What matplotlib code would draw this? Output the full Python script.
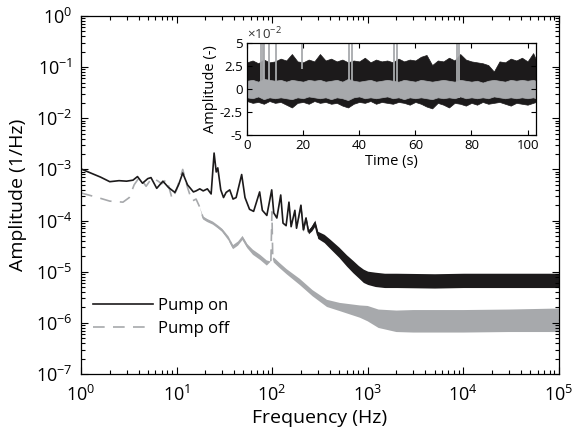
import numpy as np
import matplotlib
matplotlib.use("Agg")
import matplotlib.pyplot as plt
from matplotlib.ticker import LogLocator, NullFormatter, FixedLocator

plt.rcParams['font.family'] = ['Open Sans', 'DejaVu Sans']
plt.rcParams['mathtext.fontset'] = 'custom'
plt.rcParams['mathtext.rm'] = 'Open Sans'
plt.rcParams['mathtext.it'] = 'Open Sans:italic'
plt.rcParams['axes.unicode_minus'] = False

# ---- spectrum, pump on (log10 amplitude) ----
f_on = [1.0, 1.3, 1.6, 2.0, 2.5, 3.0, 3.5, 3.9, 4.4, 5.0, 5.4, 6.2, 7.2, 8.2,
        9.6, 10.5, 11.6, 13.0, 15.0, 16.0, 17.5, 19.0, 21.0, 23.0, 24.7, 26.0,
        27.0, 29.0, 31.0, 33.0, 36.0, 39.0, 42.0, 48.0, 52.0, 58.0, 64.0, 74.0,
        79.0, 88.0, 99.0, 104.0, 112.0, 123.0, 130.0, 140.0, 150.0, 158.0,
        173.0, 180.0, 200.0, 212.0, 226.0, 240.0, 260.0, 280.0, 300.0, 350.0,
        400.0, 500.0, 600.0, 700.0, 800.0, 900.0, 1000.0, 1200.0, 1500.0,
        2000.0, 5000.0, 10000.0, 30000.0, 100000.0]
a_on = [-2.99, -3.08, -3.15, -3.24, -3.22, -3.23, -3.21, -3.14, -3.27, -3.18,
        -3.16, -3.37, -3.23, -3.35, -3.45, -3.30, -3.07, -3.30, -3.44, -3.42,
        -3.38, -3.42, -3.38, -3.48, -2.68, -3.05, -2.97, -3.40, -3.55, -3.45,
        -3.40, -3.58, -3.55, -3.10, -3.55, -3.78, -3.82, -3.44, -3.80, -3.90,
        -3.40, -3.85, -3.95, -3.50, -4.05, -4.10, -3.64, -4.12, -3.80, -4.15,
        -3.70, -4.18, -3.95, -4.22, -4.15, -4.05, -4.28, -4.35, -4.45, -4.62,
        -4.78, -4.90, -5.00, -5.08, -5.12, -5.15, -5.17, -5.17, -5.18, -5.17,
        -5.17, -5.17]
# half width of the noise band (decades)
w_on = [0.0] * 50 + [0.02, 0.03, 0.03, 0.04, 0.05, 0.06, 0.07, 0.08, 0.09,
                     0.10, 0.11, 0.12, 0.12, 0.13, 0.13, 0.14, 0.14, 0.14,
                     0.14, 0.14, 0.14, 0.14]

# ---- spectrum, pump off ----
f_off = [1.0, 1.5, 2.0, 2.75, 3.2, 3.6, 4.1, 4.8, 5.5, 6.3, 7.0, 7.9, 9.0,
         10.0, 11.6, 13.0, 14.5, 16.0, 17.5, 19.0, 21.0, 24.0, 27.0, 30.0,
         35.0, 39.0, 44.0, 49.0, 55.0, 63.0, 75.0, 88.0, 97.0, 99.5, 101.5,
         104.0, 120.0, 142.0, 195.0, 265.0, 375.0, 510.0, 830.0, 1000.0,
         1300.0, 2000.0, 3000.0, 10000.0, 30000.0, 100000.0]
a_off = [-3.46, -3.55, -3.62, -3.64, -3.55, -3.30, -3.15, -3.33, -3.17, -3.22,
         -3.28, -3.19, -3.58, -3.40, -3.00, -3.35, -3.62, -3.58, -3.74, -3.95,
         -4.00, -4.05, -4.12, -4.19, -4.35, -4.52, -4.45, -4.34, -4.50, -4.62,
         -4.72, -4.83, -4.80, -3.83, -4.75, -4.77, -4.88, -5.00, -5.20, -5.42,
         -5.62, -5.69, -5.78, -5.82, -5.92, -5.97, -5.97, -5.97, -5.96, -5.95]
w_off = [0.0] * 19 + [0.03, 0.03, 0.03, 0.03, 0.03, 0.04, 0.04, 0.04, 0.04,
                      0.04, 0.05, 0.05, 0.05, 0.0, 0.0, 0.0, 0.05, 0.05,
                      0.05, 0.06, 0.06, 0.07, 0.08, 0.12, 0.15, 0.18, 0.21,
                      0.22, 0.22, 0.22, 0.23]

# ---- inset time series (x1e-2) ----
t_env = [0, 2, 4, 6, 8, 10, 12, 14, 16, 18, 20, 22, 24, 26, 28, 30, 32, 34,
         36, 38, 40, 42, 44, 46, 48, 50, 52, 54, 56, 58, 60, 62, 64, 66, 68,
         70, 72, 74, 76, 78, 80, 82, 84, 86, 88, 90, 92, 94, 96, 98, 100,
         102, 103]
blk_top = [2.9, 3.1, 2.8, 3.2, 2.9, 3.0, 3.3, 3.1, 3.8, 3.0, 2.9, 3.2, 3.0,
           3.8, 3.1, 3.3, 3.0, 3.2, 2.9, 3.1, 3.0, 3.4, 2.9, 3.2, 3.0, 3.1,
           2.9, 3.3, 3.0, 3.2, 3.1, 3.5, 3.7, 2.6, 3.1, 3.0, 3.4, 3.1, 3.8,
           3.2, 3.0, 2.9, 2.8, 2.6, 1.9, 3.0, 2.9, 3.3, 3.1, 3.4, 3.0, 3.9,
           3.2]
blk_bot = [-1.3, -1.5, -1.4, -1.6, -1.3, -1.5, -1.4, -1.7, -2.0, -1.5, -1.4,
           -1.6, -1.3, -1.5, -1.4, -1.6, -1.5, -1.8, -2.0, -1.6, -1.4, -1.5,
           -1.3, -1.6, -1.4, -1.5, -1.6, -1.4, -1.5, -1.7, -1.4, -1.6, -1.9,
           -2.1, -1.5, -1.7, -2.0, -1.5, -1.6, -1.8, -1.5, -1.7, -1.4, -1.6,
           -1.5, -1.4, -1.6, -1.8, -1.5, -1.6, -1.7, -1.5, -1.4]
gry_top = [0.9, 1.0, 0.8, 1.1, 1.0, 0.9, 1.0, 0.8, 1.0, 0.9, 0.8, 1.0, 0.9,
           1.0, 0.8, 0.9, 1.0, 0.8, 1.1, 0.9, 0.8, 0.9, 1.0, 0.8, 0.9, 1.0,
           0.9, 0.8, 1.0, 0.9, 0.8, 1.0, 0.9, 0.8, 0.9, 1.0, 0.9, 0.8, 1.0,
           0.9, 0.8, 0.9, 0.7, 0.9, 1.0, 0.9, 0.8, 1.0, 0.9, 1.0, 0.9, 1.0,
           0.9]
gry_bot = [-0.9, -1.0, -0.8, -1.1, -0.9, -1.0, -0.9, -1.0, -1.1, -0.9, -1.0,
           -0.8, -0.9, -1.0, -0.9, -1.1, -0.9, -1.0, -1.2, -0.9, -0.8, -1.0,
           -0.9, -1.0, -0.9, -0.8, -1.0, -0.9, -1.1, -0.9, -1.0, -0.9, -1.0,
           -1.1, -0.9, -1.0, -0.9, -1.0, -0.8, -1.0, -0.9, -1.0, -0.9, -1.0,
           -0.8, -0.9, -1.0, -0.9, -1.0, -0.9, -1.0, -0.9, -1.0]
spike_t = [5.0, 5.6, 6.2, 8.0, 10.2, 36.5, 37.3, 52.4, 53.5, 74.9, 75.6]
spike_lo = [-1.0, -1.0, -1.0, -1.0, -1.0, -1.0, -1.0, -1.0, -1.0, -1.0, -1.0]
short_spike_t = [19.6]
short_spike_lo = [2.2]

BLACK = '#1c1a1b'
GRAY = '#a7a9ac'

fig = plt.figure(figsize=(5.72, 4.43), dpi=100)
ax = fig.add_axes([0.1416, 0.1558, 0.8354, 0.8081])

f_on = np.array(f_on)
a_on = np.array(a_on)
w_on = np.array(w_on)
f_off = np.array(f_off)
a_off = np.array(a_off)
w_off = np.array(w_off)

ax.fill_between(f_off, 10 ** (a_off - w_off), 10 ** (a_off + w_off),
                where=w_off > 0, interpolate=True, color=GRAY, lw=0)
ax.plot(f_off, 10 ** a_off, color=GRAY, lw=1.2, dashes=(7, 5),
        label='Pump off')
ax.fill_between(f_on, 10 ** (a_on - w_on), 10 ** (a_on + w_on),
                where=w_on > 0, interpolate=True, color=BLACK, lw=0)
ax.plot(f_on, 10 ** a_on, color=BLACK, lw=1.2, label='Pump on')

ax.set_xscale('log')
ax.set_yscale('log')
ax.set_xlim(1, 1e5)
ax.set_ylim(1e-7, 1)
ax.xaxis.set_major_locator(LogLocator(base=10, numticks=10))
ax.yaxis.set_major_locator(LogLocator(base=10, numticks=10))
ax.xaxis.set_minor_locator(LogLocator(base=10, subs=np.arange(2, 10), numticks=20))
ax.yaxis.set_minor_locator(LogLocator(base=10, subs=np.arange(2, 10), numticks=20))
ax.xaxis.set_minor_formatter(NullFormatter())
ax.yaxis.set_minor_formatter(NullFormatter())
ax.tick_params(which='both', direction='in', top=True, right=True,
               labelsize=13, width=0.8)
ax.tick_params(which='major', length=5)
ax.tick_params(which='minor', length=3)
ax.tick_params(axis='x', pad=8)
ax.tick_params(axis='y', pad=6)
for s in ax.spines.values():
    s.set_linewidth(0.9)
ax.set_xlabel('Frequency (Hz)', fontsize=14, labelpad=3)
ax.set_ylabel('Amplitude (1/Hz)', fontsize=14, labelpad=6)

h, l = ax.get_legend_handles_labels()
ax.legend(h[::-1], l[::-1], loc='lower left', frameon=False, fontsize=12,
          handlelength=3.6, handletextpad=0.3, borderaxespad=0.3,
          labelspacing=0.45, bbox_to_anchor=(0.0, 0.07))

# ---- inset ----
ins = fig.add_axes([0.4318, 0.695, 0.5052, 0.208])
ins.fill_between(t_env, blk_bot, blk_top, color=BLACK, lw=0.5, edgecolor=BLACK)
ins.fill_between(t_env, gry_bot, gry_top, color=GRAY, lw=0.5, edgecolor=GRAY)
ins.vlines(spike_t, spike_lo, 5, color=GRAY, lw=1.3)
ins.vlines(short_spike_t, short_spike_lo, 5, color=GRAY, lw=1.3)
ins.set_xlim(0, 103)
ins.set_ylim(-5, 5)
ins.yaxis.set_major_locator(FixedLocator([-5, -2.5, 0, 2.5, 5]))
ins.set_yticklabels(['-5', '-2.5', '0', '2.5', '5'])
ins.set_xticks([0, 20, 40, 60, 80, 100])
ins.tick_params(direction='in', top=True, right=True, labelsize=9.5,
                length=3.5, width=0.8, pad=3)
for s in ins.spines.values():
    s.set_linewidth(0.9)
ins.set_xlabel('Time (s)', fontsize=10.5, labelpad=1)
ins.set_ylabel('Amplitude (-)', fontsize=10.5, labelpad=1)
ins.text(0.0, 1.01, r'$\times$10$^{-2}$', transform=ins.transAxes,
         fontsize=9.5, ha='left', va='bottom', color='#333333')

fig.savefig('out.png', dpi=100)
